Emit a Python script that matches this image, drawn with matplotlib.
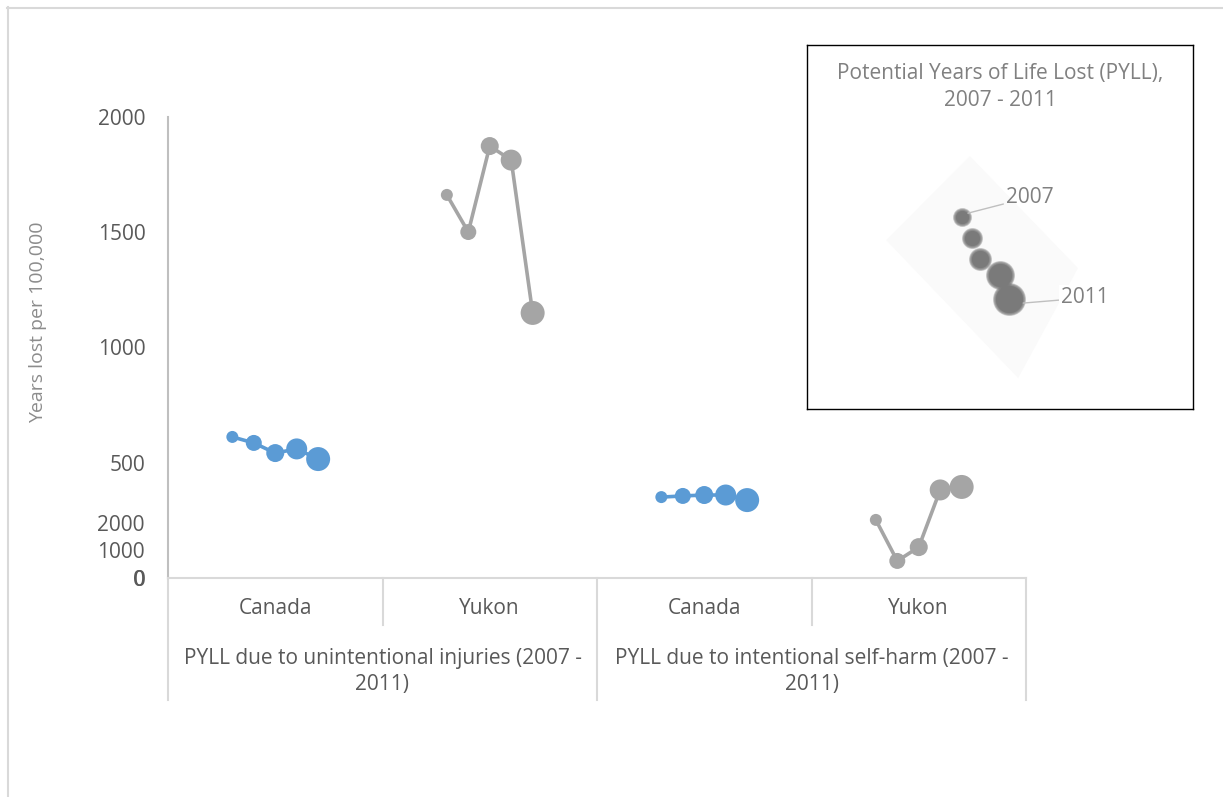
import matplotlib
matplotlib.use("Agg")
import matplotlib.pyplot as plt
from matplotlib.lines import Line2D
from matplotlib.patches import Polygon

plt.rcParams["font.family"] = ["Open Sans", "DejaVu Sans"]

# PYLL per 100,000, yearly values 2007 - 2011
years = [2007, 2008, 2009, 2010, 2011]
categories = ["Canada", "Yukon", "Canada", "Yukon"]
groups = ["PYLL due to unintentional injuries (2007 -\n2011)",
          "PYLL due to intentional self-harm (2007 -\n2011)"]
canada_unint = [612, 586, 542, 560, 516]
yukon_unint = [1662, 1501, 1874, 1813, 1150]
canada_self = [351, 356, 360, 360, 338]
yukon_self = [252, 74, 134, 382, 395]
y_ticks = [0, 500, 1000, 1500, 2000]
y2_ticks = [0, 1000, 2000]

# key in the corner box (fractions of the box)
key_years = ["2007", "2008", "2009", "2010", "2011"]
key_x = [0.402, 0.427, 0.448, 0.500, 0.523]
key_y = [0.473, 0.530, 0.588, 0.632, 0.698]

BLUE = "#5B9BD5"
GREY = "#A5A5A5"
TXT = "#595959"
GRID = "#D9D9D9"
FS = 15
MARKER_PX = [12, 16, 18, 21, 24]
KEY_PX = [16, 18, 20, 26, 30]
OFFS = [-0.2, -0.1, 0.0, 0.1, 0.2]

W, H = 1223, 797
def box(x0, y0, x1, y1):
    return [x0 / W, 1 - y1 / H, (x1 - x0) / W, (y1 - y0) / H]

fig = plt.figure(figsize=(W / 100, H / 100), dpi=100)

# light frame around the chart
fig.add_artist(Line2D([7 / W, 1], [1 - 8 / H, 1 - 8 / H], color=GRID, lw=1.5))
fig.add_artist(Line2D([8 / W, 8 / W], [0, 1 - 7 / H], color=GRID, lw=1.5))

ax = fig.add_axes(box(168, 117, 1026, 578))
ax.set_xlim(-0.5, 3.5)
ax.set_ylim(0, 2000)

series = [(0, canada_unint, BLUE), (1, yukon_unint, GREY),
          (2, canada_self, BLUE), (3, yukon_self, GREY)]
for i, vals, col in series:
    xs = [i + o for o in OFFS]
    ax.plot(xs, vals, color=col, lw=2.6, zorder=2, solid_capstyle="round")
    ax.scatter(xs, vals, s=[(d * 0.72) ** 2 for d in MARKER_PX], color=col,
               lw=0, zorder=3)

for sp in ["top", "right"]:
    ax.spines[sp].set_visible(False)
ax.spines["left"].set_color("#BFBFBF")
ax.spines["left"].set_linewidth(1.5)
ax.spines["bottom"].set_color(GRID)
ax.spines["bottom"].set_linewidth(1.5)
ax.set_yticks(y_ticks)
ax.set_yticklabels([str(v) for v in y_ticks])
ax.tick_params(axis="y", length=0, pad=16, labelsize=FS, labelcolor=TXT)
ax.set_xticks([])

# category table under the plot
tr = ax.get_xaxis_transform()
for xv, low in [(-0.5, -0.265), (0.5, -0.102), (1.5, -0.265),
                (2.5, -0.102), (3.5, -0.265)]:
    ax.plot([xv, xv], [0, low], transform=tr, color=GRID, lw=1.5,
            clip_on=False)
for i, name in enumerate(categories):
    ax.text(i, -0.067, name, transform=tr, ha="center", va="center",
            fontsize=FS, color=TXT)
for g, name in enumerate(groups):
    ax.text(2 * g + 0.5, -0.203, name, transform=tr, ha="center",
            va="center", fontsize=FS, color=TXT, linespacing=1.35)

# compressed secondary scale on the left
ax2 = fig.add_axes(box(168, 117, 1026, 578), sharex=ax)
ax2.patch.set_visible(False)
ax2.set_ylim(0, 2000 * 461 / 55)
ax2.set_yticks(y2_ticks)
ax2.set_yticklabels([str(v) for v in y2_ticks])
ax2.tick_params(axis="y", length=0, pad=17, labelsize=FS, labelcolor=TXT)
for sp in ax2.spines.values():
    sp.set_visible(False)
ax2.set_xticks([])

fig.text(38 / W, 1 - 322 / H, "Years lost per 100,000", rotation=90,
         ha="center", va="center", fontsize=14, color="#8C8C8C")

# key box
kx = fig.add_axes(box(807, 45, 1193, 409))
kx.set_xlim(0, 1)
kx.set_ylim(1, 0)
kx.set_xticks([])
kx.set_yticks([])
for sp in kx.spines.values():
    sp.set_color("black")
    sp.set_linewidth(1)
kx.text(0.5, 0.115, "Potential Years of Life Lost (PYLL),\n2007 - 2011",
        ha="center", va="center", fontsize=FS, color="#808080",
        linespacing=1.35)
kx.add_patch(Polygon([(0.205, 0.536), (0.422, 0.305), (0.702, 0.613),
                      (0.547, 0.915)], closed=True, color="#FAFAFA", lw=0,
                     zorder=1))
# soft-edged bubbles: stacked translucent discs
for x, y, d in zip(key_x, key_y, KEY_PX):
    for extra in range(3, -4, -1):
        kx.scatter([x], [y], s=((d + extra) * 0.72) ** 2,
                   color="#7A7A7A", alpha=0.3, lw=0, zorder=2)
    kx.scatter([x], [y], s=((d - 3) * 0.72) ** 2, color="#7A7A7A", lw=0,
               zorder=3)

kx.annotate(key_years[0], xy=(0.417, 0.462), xytext=(0.516, 0.418),
            fontsize=FS, color="#808080", va="center", ha="left",
            arrowprops=dict(arrowstyle="-", color="#BFBFBF", lw=1,
                            shrinkA=0, shrinkB=0), zorder=4)
kx.annotate(key_years[-1], xy=(0.560, 0.709), xytext=(0.658, 0.695),
            fontsize=FS, color="#808080", va="center", ha="left",
            bbox=dict(boxstyle="square,pad=0.1", fc="white", ec="none"),
            arrowprops=dict(arrowstyle="-", color="#BFBFBF", lw=1,
                            shrinkA=0, shrinkB=0), zorder=4)

fig.savefig("out.png", dpi=100)
